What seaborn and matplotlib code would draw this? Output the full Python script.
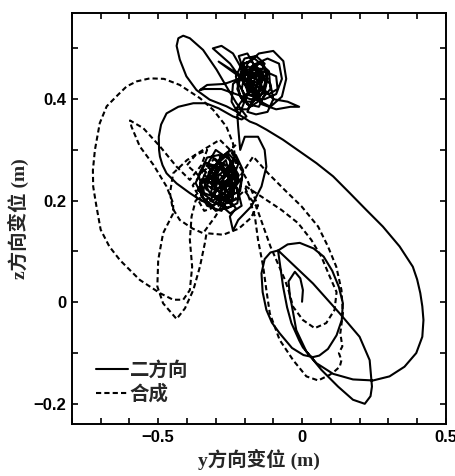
import matplotlib
matplotlib.use("Agg")
import matplotlib.pyplot as plt
from matplotlib.lines import Line2D
from matplotlib.ticker import MultipleLocator, FuncFormatter
import pandas as pd
import seaborn as sns

# ---- 二方向 trajectory (y, z) in metres, in time order ----
two_spiral_loop = [
    (0.0, 0.001), (0.003, 0.024), (-0.006, 0.047), (-0.025, 0.060), (-0.047, 0.041),
    (-0.042, 0.010), (-0.037, -0.002), (-0.02, -0.055), (0.015, -0.097), (0.067, -0.133),
    (0.125, -0.166), (0.177, -0.192), (0.218, -0.200), (0.238, -0.185), (0.243, -0.166),
    (0.235, -0.114), (0.2, -0.068), (0.131, -0.022), (0.038, 0.037), (-0.083, 0.102),
]
two_ellipse = [
    (-0.083, 0.102), (-0.05, 0.114), (-0.008, 0.117), (0.04, 0.106), (0.075, 0.09),
    (0.105, 0.062), (0.128, 0.03), (0.142, -0.002), (0.138, -0.035), (0.12, -0.065),
    (0.09, -0.092), (0.06, -0.105), (0.038, -0.108), (0.005, -0.104), (-0.035, -0.09),
    (-0.078, -0.061), (-0.105, -0.04), (-0.124, -0.015), (-0.137, 0.02), (-0.141, 0.057),
    (-0.13, 0.085), (-0.11, 0.098), (-0.083, 0.102),
]
two_big_loop = [
    (-0.083, 0.100), (-0.075, 0.068), (-0.066, 0.031), (-0.052, -0.010), (-0.037, -0.041),
    (-0.01, -0.075), (0.003, -0.089), (0.05, -0.12), (0.108, -0.141), (0.177, -0.152),
    (0.247, -0.154), (0.304, -0.146), (0.356, -0.127), (0.397, -0.100), (0.418, -0.068),
    (0.422, -0.035), (0.418, -0.008), (0.411, 0.018), (0.40, 0.045), (0.385, 0.070),
    (0.339, 0.110), (0.281, 0.149), (0.223, 0.182), (0.166, 0.215), (0.108, 0.248),
    (0.05, 0.274), (-0.008, 0.297), (-0.066, 0.320), (-0.124, 0.340), (-0.159, 0.351),
]
two_top_cluster = [
    (-0.182, 0.356), (-0.22, 0.37), (-0.245, 0.395), (-0.24, 0.43), (-0.20, 0.45),
    (-0.16, 0.44), (-0.13, 0.41), (-0.15, 0.385), (-0.19, 0.39), (-0.21, 0.42),
    (-0.19, 0.47), (-0.15, 0.49), (-0.10, 0.495), (-0.065, 0.475), (-0.055, 0.44),
    (-0.07, 0.405), (-0.11, 0.385), (-0.16, 0.40), (-0.18, 0.43), (-0.17, 0.46),
    (-0.14, 0.475), (-0.12, 0.45), (-0.135, 0.42), (-0.17, 0.41), (-0.20, 0.43),
    (-0.25, 0.47), (-0.29, 0.49), (-0.31, 0.50), (-0.28, 0.505), (-0.24, 0.49),
    (-0.21, 0.46), (-0.18, 0.42), (-0.14, 0.39), (-0.09, 0.38), (-0.04, 0.385),
    (-0.01, 0.385), (-0.05, 0.395), (-0.10, 0.40), (-0.15, 0.43), (-0.19, 0.44),
    (-0.16, 0.47), (-0.12, 0.48), (-0.08, 0.47), (-0.07, 0.44), (-0.09, 0.41),
    (-0.13, 0.40), (-0.18, 0.40), (-0.23, 0.41), (-0.28, 0.42), (-0.34, 0.42),
    (-0.355, 0.418), (-0.33, 0.428), (-0.27, 0.43), (-0.22, 0.44), (-0.18, 0.455),
    (-0.14, 0.44), (-0.15, 0.41), (-0.19, 0.38), (-0.23, 0.38), (-0.205, 0.40),
    (-0.17, 0.42), (-0.16, 0.46), (-0.19, 0.49), (-0.22, 0.485), (-0.20, 0.45),
    (-0.15, 0.45), (-0.11, 0.43), (-0.10, 0.40), (-0.12, 0.375), (-0.16, 0.37),
    (-0.19, 0.375), (-0.17, 0.40), (-0.145, 0.45), (-0.175, 0.475), (-0.205, 0.47),
    (-0.18, 0.44), (-0.13, 0.455), (-0.09, 0.445), (-0.085, 0.42), (-0.115, 0.41),
    (-0.155, 0.425), (-0.29, 0.474), (-0.17, 0.425),
]
two_top_core = [
    (-0.17, 0.43), (-0.20, 0.455), (-0.16, 0.465), (-0.13, 0.445), (-0.155, 0.415),
    (-0.195, 0.425), (-0.18, 0.46), (-0.145, 0.46), (-0.125, 0.43), (-0.15, 0.40),
    (-0.185, 0.41), (-0.21, 0.445), (-0.19, 0.465), (-0.155, 0.455), (-0.14, 0.425),
    (-0.165, 0.405), (-0.20, 0.41), (-0.22, 0.43), (-0.20, 0.47), (-0.165, 0.48),
    (-0.135, 0.465), (-0.12, 0.44), (-0.13, 0.415), (-0.17, 0.395), (-0.205, 0.395),
    (-0.225, 0.42), (-0.21, 0.46), (-0.175, 0.45), (-0.15, 0.435), (-0.165, 0.42),
    (-0.19, 0.435), (-0.175, 0.465), (-0.145, 0.47), (-0.115, 0.455), (-0.11, 0.42),
    (-0.14, 0.40), (-0.18, 0.385), (-0.215, 0.405), (-0.23, 0.445), (-0.20, 0.48),
    (-0.16, 0.485), (-0.13, 0.47), (-0.15, 0.445), (-0.185, 0.445), (-0.19, 0.41),
    (-0.216, 0.372),
]
two_left_petal = [
    (-0.263, 0.386), (-0.321, 0.399), (-0.367, 0.418), (-0.402, 0.445), (-0.425, 0.478),
    (-0.436, 0.505), (-0.43, 0.52), (-0.413, 0.525), (-0.39, 0.52), (-0.344, 0.497),
    (-0.297, 0.458), (-0.263, 0.425), (-0.228, 0.392), (-0.193, 0.366), (-0.21, 0.36),
]
two_side_loop = [
    (-0.24, 0.366), (-0.29, 0.382), (-0.335, 0.392), (-0.378, 0.392), (-0.43, 0.385),
    (-0.471, 0.372), (-0.49, 0.35), (-0.498, 0.326), (-0.497, 0.30), (-0.494, 0.287),
    (-0.485, 0.27), (-0.471, 0.254), (-0.436, 0.234), (-0.39, 0.215), (-0.355, 0.202),
    (-0.309, 0.189),
]
two_mid_cluster = [
    (-0.28, 0.215), (-0.33, 0.24), (-0.27, 0.27), (-0.31, 0.285), (-0.25, 0.25),
    (-0.29, 0.21), (-0.24, 0.19), (-0.30, 0.18), (-0.35, 0.21), (-0.32, 0.26),
    (-0.26, 0.29), (-0.23, 0.26), (-0.27, 0.23), (-0.34, 0.25), (-0.36, 0.22),
    (-0.31, 0.20), (-0.26, 0.22), (-0.22, 0.24), (-0.25, 0.28), (-0.30, 0.30),
    (-0.33, 0.27), (-0.29, 0.24), (-0.25, 0.21), (-0.28, 0.18), (-0.33, 0.19),
    (-0.37, 0.235), (-0.335, 0.275), (-0.285, 0.265), (-0.24, 0.235), (-0.26, 0.195),
    (-0.22, 0.205), (-0.245, 0.265), (-0.28, 0.245), (-0.315, 0.225), (-0.30, 0.26),
    (-0.265, 0.28), (-0.235, 0.215), (-0.27, 0.20), (-0.32, 0.215), (-0.345, 0.24),
    (-0.30, 0.235), (-0.255, 0.24), (-0.225, 0.225), (-0.21, 0.19), (-0.25, 0.175),
    (-0.29, 0.195), (-0.27, 0.255), (-0.23, 0.29), (-0.205, 0.26), (-0.215, 0.22),
    (-0.26, 0.205), (-0.305, 0.21), (-0.29, 0.25), (-0.25, 0.27), (-0.24, 0.245),
    (-0.275, 0.225), (-0.31, 0.245), (-0.285, 0.285), (-0.245, 0.30), (-0.22, 0.275),
    (-0.25, 0.23), (-0.29, 0.225), (-0.32, 0.20), (-0.28, 0.19), (-0.24, 0.205),
]
two_mid_core = [
    (-0.26, 0.24), (-0.30, 0.22), (-0.33, 0.23), (-0.31, 0.265), (-0.27, 0.26),
    (-0.24, 0.27), (-0.22, 0.25), (-0.25, 0.215), (-0.28, 0.20), (-0.31, 0.19),
    (-0.345, 0.205), (-0.355, 0.235), (-0.32, 0.25), (-0.285, 0.235), (-0.255, 0.255),
    (-0.235, 0.28), (-0.26, 0.295), (-0.295, 0.275), (-0.325, 0.255), (-0.30, 0.225),
    (-0.265, 0.21), (-0.235, 0.225), (-0.21, 0.245), (-0.225, 0.195), (-0.26, 0.185),
    (-0.295, 0.205), (-0.34, 0.215), (-0.36, 0.25), (-0.33, 0.285), (-0.29, 0.29),
    (-0.255, 0.285), (-0.23, 0.245), (-0.245, 0.20), (-0.28, 0.21), (-0.31, 0.235),
    (-0.28, 0.27), (-0.25, 0.25), (-0.27, 0.215), (-0.23, 0.185),
]
two_mid_exit = [
    (-0.251, 0.169), (-0.24, 0.141), (-0.222, 0.162), (-0.176, 0.189), (-0.141, 0.228),
    (-0.124, 0.267), (-0.13, 0.300), (-0.153, 0.326), (-0.199, 0.326), (-0.215, 0.30),
    (-0.218, 0.32), (-0.222, 0.345), (-0.225, 0.37),
]

# ---- 合成 trajectory (y, z) in metres, in time order ----
syn_cluster_a = [
    (-0.30, 0.23), (-0.34, 0.26), (-0.28, 0.28), (-0.24, 0.25), (-0.29, 0.21),
    (-0.35, 0.20), (-0.38, 0.23), (-0.33, 0.27), (-0.27, 0.245), (-0.23, 0.27),
    (-0.235, 0.295),
]
syn_outer_loop = [
    (-0.24, 0.313), (-0.263, 0.346), (-0.309, 0.379), (-0.355, 0.402), (-0.425, 0.428),
    (-0.48, 0.44), (-0.529, 0.441), (-0.575, 0.435), (-0.61, 0.425), (-0.639, 0.409),
    (-0.679, 0.386), (-0.703, 0.353), (-0.72, 0.30), (-0.727, 0.26), (-0.726, 0.228),
    (-0.715, 0.19), (-0.70, 0.143), (-0.67, 0.11), (-0.633, 0.083), (-0.564, 0.044),
    (-0.494, 0.018), (-0.448, 0.005), (-0.413, 0.005), (-0.39, 0.024), (-0.382, 0.070),
    (-0.39, 0.123), (-0.384, 0.169),
]
syn_cluster_b = [
    (-0.37, 0.20), (-0.33, 0.22), (-0.36, 0.25), (-0.40, 0.27), (-0.37, 0.29),
    (-0.33, 0.30), (-0.35, 0.27), (-0.39, 0.241),
]
syn_diagonal = [
    (-0.436, 0.267), (-0.494, 0.307), (-0.552, 0.343), (-0.598, 0.358), (-0.593, 0.346),
    (-0.564, 0.307), (-0.517, 0.271), (-0.471, 0.228), (-0.448, 0.195),
]
syn_lower_lobe = [
    (-0.448, 0.175), (-0.483, 0.136), (-0.5, 0.083), (-0.503, 0.031), (-0.483, -0.002),
    (-0.436, -0.033), (-0.407, -0.012), (-0.378, 0.024), (-0.355, 0.070), (-0.338, 0.116),
    (-0.332, 0.136),
]
syn_ring = [
    (-0.274, 0.133), (-0.22, 0.145), (-0.18, 0.165), (-0.153, 0.19), (-0.19, 0.24),
    (-0.25, 0.30), (-0.286, 0.320), (-0.344, 0.300), (-0.40, 0.28), (-0.448, 0.254),
    (-0.459, 0.215), (-0.45, 0.185), (-0.425, 0.162), (-0.38, 0.145), (-0.344, 0.136),
    (-0.30, 0.17), (-0.26, 0.21), (-0.19, 0.27),
]
syn_right_sweep = [
    (-0.17, 0.287), (-0.118, 0.254), (-0.06, 0.221), (-0.002, 0.189), (0.056, 0.149),
    (0.09, 0.110), (0.119, 0.070), (0.137, 0.024), (0.142, -0.022), (0.133, -0.061),
    (0.140, -0.087), (0.128, -0.100), (0.137, -0.114), (0.131, -0.127), (0.115, -0.135),
    (0.096, -0.143), (0.056, -0.154), (0.015, -0.146), (-0.031, -0.114), (-0.078, -0.074),
    (-0.112, -0.022), (-0.124, 0.024), (-0.135, 0.070), (-0.153, 0.123), (-0.164, 0.169),
    (-0.182, 0.202), (-0.20, 0.23),
]
syn_inner_sweep = [
    (-0.141, 0.208), (-0.072, 0.182), (-0.014, 0.156), (0.032, 0.123), (0.067, 0.090),
    (0.096, 0.051), (0.12, 0.02), (0.113, -0.015), (0.084, -0.041), (0.044, -0.051),
    (0.003, -0.035), (-0.031, -0.009), (-0.045, 0.02), (-0.06, 0.045), (-0.083, 0.075),
    (-0.11, 0.11), (-0.135, 0.15), (-0.16, 0.19),
]
syn_cluster_c = [
    (-0.20, 0.22), (-0.24, 0.20), (-0.28, 0.23), (-0.32, 0.21), (-0.30, 0.25),
    (-0.26, 0.26), (-0.25, 0.22), (-0.29, 0.19), (-0.34, 0.18), (-0.37, 0.21),
    (-0.35, 0.24), (-0.31, 0.28), (-0.27, 0.29), (-0.23, 0.31),
]

labels = ["二方向", "合成"]
series = {
    "二方向": [two_spiral_loop, two_ellipse, two_big_loop, two_top_cluster, two_top_core,
              two_left_petal, two_side_loop, two_mid_cluster, two_mid_core, two_mid_exit],
    "合成": [syn_cluster_a, syn_outer_loop, syn_cluster_b, syn_diagonal, syn_lower_lobe,
             syn_ring, syn_right_sweep, syn_inner_sweep, syn_cluster_c],
}

rows = []
for name in labels:
    step = 0
    for seg in series[name]:
        for yv, zv in seg:
            rows.append({"case": name, "step": step, "y": yv, "z": zv})
            step += 1
df = pd.DataFrame(rows)

sns.set_style("ticks")
plt.rcParams["font.family"] = ["Liberation Sans", "Noto Sans CJK SC"]
plt.rcParams["axes.unicode_minus"] = True

fig = plt.figure(figsize=(4.55, 4.76), dpi=100)
ax = fig.add_axes([0.158, 0.109, 0.822, 0.864])

line_dash = (2.5, 1.5)
sns.lineplot(
    data=df, x="y", y="z", hue="case", style="case", sort=False, estimator=None,
    palette={"二方向": "black", "合成": "black"},
    dashes={"二方向": "", "合成": line_dash},
    linewidth=1.5, legend=False, ax=ax,
)

ax.set_xlim(-0.8, 0.5)
ax.set_ylim(-0.24, 0.57)
ax.xaxis.set_major_locator(MultipleLocator(0.5))
ax.xaxis.set_minor_locator(MultipleLocator(0.1))
ax.yaxis.set_major_locator(MultipleLocator(0.2))
ax.yaxis.set_minor_locator(MultipleLocator(0.1))


def fmt(v, _):
    if abs(v) < 1e-9:
        return "0"
    return f"{v:g}".replace("-", "\u2212")


ax.xaxis.set_major_formatter(FuncFormatter(fmt))
ax.yaxis.set_major_formatter(FuncFormatter(fmt))
ax.tick_params(which="both", direction="in", top=True, right=True,
               length=4, width=1.2, colors="black")
ax.tick_params(which="major", labelsize=12, pad=4)
for t in ax.get_xticklabels() + ax.get_yticklabels():
    t.set_fontweight("bold")
for sp in ax.spines.values():
    sp.set_linewidth(1.4)
    sp.set_color("black")

label_family = ["Liberation Serif", "Noto Sans CJK SC"]
ax.set_xlabel("y方向变位 (m)", fontsize=14, fontweight="bold",
              family=label_family, labelpad=3)
ax.set_ylabel("z方向变位 (m)", fontsize=14, fontweight="bold",
              family=label_family, labelpad=3)

handles = [
    Line2D([], [], color="black", linewidth=1.5),
    Line2D([], [], color="black", linewidth=1.5, dashes=line_dash),
]
leg = ax.legend(handles, labels, loc="lower left", bbox_to_anchor=(0.045, 0.03),
                frameon=False, handlelength=1.6, handletextpad=0.1,
                labelspacing=0.25, borderaxespad=0.0,
                prop={"family": ["Noto Sans CJK SC"], "weight": "bold", "size": 14})

fig.savefig("out.png", dpi=100, facecolor="white")
